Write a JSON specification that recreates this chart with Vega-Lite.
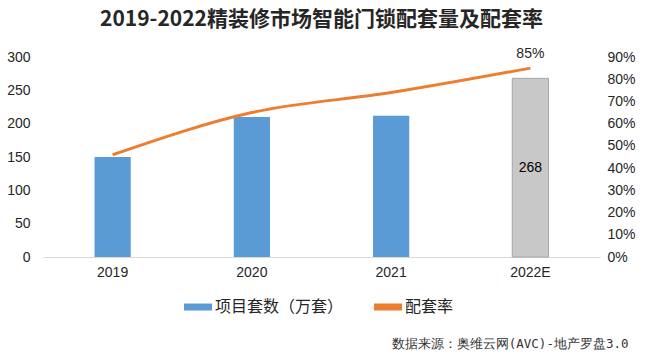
{
  "$schema": "https://vega.github.io/schema/vega-lite/v6.json",
  "width": 557,
  "height": 200,
  "autosize": {"type": "none"},
  "padding": {"left": 43, "top": 57, "right": 60, "bottom": 100},
  "background": "white",
  "config": {"view": {"stroke": null}, "font": "Liberation Sans"},
  "title": {
    "text": "2019-2022精装修市场智能门锁配套量及配套率",
    "font": "Noto Sans CJK SC",
    "fontWeight": "bold",
    "fontSize": 21,
    "color": "#262626",
    "anchor": "middle",
    "offset": 17
  },
  "data": {
    "values": [
      {"year": "2019", "n": 150, "rate": 0.46},
      {"year": "2020", "n": 210, "rate": 0.65},
      {"year": "2021", "n": 212, "rate": 0.74},
      {"year": "2022E", "n": 268, "rate": 0.85}
    ]
  },
  "encoding": {
    "x": {
      "field": "year",
      "type": "ordinal",
      "sort": null,
      "scale": {"paddingInner": 0.74, "paddingOuter": 0.37},
      "axis": {
        "title": "数据来源：奥维云网(AVC)-地产罗盘3.0",
        "titleFont": "DejaVu Sans Mono",
        "titleFontSize": 12.5,
        "titleFontWeight": "normal",
        "titleColor": "#333333",
        "titleX": 585,
        "titleY": 86,
        "titleBaseline": "middle",
        "titleAlign": "right",
        "titleAnchor": null,
        "labelAngle": 0,
        "labelFontSize": 14,
        "labelColor": "#262626",
        "labelPadding": 8,
        "ticks": false,
        "domainColor": "#D9D9D9",
        "grid": false
      }
    }
  },
  "layer": [
    {
      "mark": {"type": "bar", "strokeWidth": 1},
      "encoding": {
        "y": {
          "field": "n",
          "type": "quantitative",
          "scale": {"domain": [0, 300]},
          "axis": {
            "title": null,
            "values": [0, 50, 100, 150, 200, 250, 300],
            "grid": false,
            "domain": false,
            "ticks": false,
            "labelPadding": 13,
            "labelFontSize": 14,
            "labelColor": "#262626"
          }
        },
        "color": {
          "condition": {"test": "datum.year === '2022E'", "value": "#C8C8C8"},
          "datum": "项目套数（万套）",
          "scale": {"domain": ["项目套数（万套）", "配套率"], "range": ["#5B9BD5", "#ED7D31"]},
          "legend": {
            "title": null,
            "orient": "none",
            "direction": "horizontal",
            "legendX": 141,
            "legendY": 236,
            "symbolType": "M-1,-0.25H1V0.25H-1Z",
            "symbolSize": 784,
            "symbolStrokeWidth": 0,
            "labelFont": "Noto Sans CJK SC",
            "labelFontSize": 16,
            "labelColor": "#262626",
            "labelOffset": 3,
            "columnPadding": 30,
            "encode": {
              "symbols": {
                "enter": {
                  "shape": {"signal": "datum.value === '配套率' ? 'M-1,-0.1H1V0.1H-1Z' : 'M-1,-0.25H1V0.25H-1Z'"}
                },
                "update": {
                  "shape": {"signal": "datum.value === '配套率' ? 'M-1,-0.1H1V0.1H-1Z' : 'M-1,-0.25H1V0.25H-1Z'"},
                  "fill": {"signal": "datum.value === '配套率' ? '#ED7D31' : '#5B9BD5'"},
                  "strokeWidth": {"value": 0}
                }
              }
            }
          }
        },
        "stroke": {
          "condition": {"test": "datum.year === '2022E'", "value": "#A6A6A6"},
          "value": null
        }
      }
    },
    {
      "mark": {"type": "text", "fontSize": 14, "color": "#000000"},
      "transform": [{"filter": "datum.year === '2022E'"}, {"calculate": "datum.n / 2", "as": "mid"}],
      "encoding": {
        "y": {"field": "mid", "type": "quantitative", "scale": {"domain": [0, 300]}, "axis": null},
        "text": {"field": "n"}
      }
    },
    {
      "layer": [
        {
          "mark": {"type": "line", "interpolate": "monotone", "strokeWidth": 3, "color": "#ED7D31"},
          "encoding": {
            "color": {"datum": "配套率"}
          }
        },
        {
          "mark": {"type": "text", "fontSize": 14, "dy": -14, "color": "#262626"},
          "transform": [{"filter": "datum.year === '2022E'"}],
          "encoding": {
            "text": {"field": "rate", "format": ".0%"}
          }
        }
      ],
      "encoding": {
        "y": {
          "field": "rate",
          "type": "quantitative",
          "scale": {"domain": [0, 0.9]},
          "axis": {
            "orient": "right",
            "title": null,
            "format": ".0%",
            "values": [0, 0.1, 0.2, 0.3, 0.4, 0.5, 0.6, 0.7, 0.8, 0.9],
            "grid": false,
            "domain": false,
            "ticks": false,
            "labelPadding": 7,
            "labelFontSize": 14,
            "labelColor": "#262626"
          }
        }
      }
    }
  ],
  "resolve": {"scale": {"y": "independent"}}
}
